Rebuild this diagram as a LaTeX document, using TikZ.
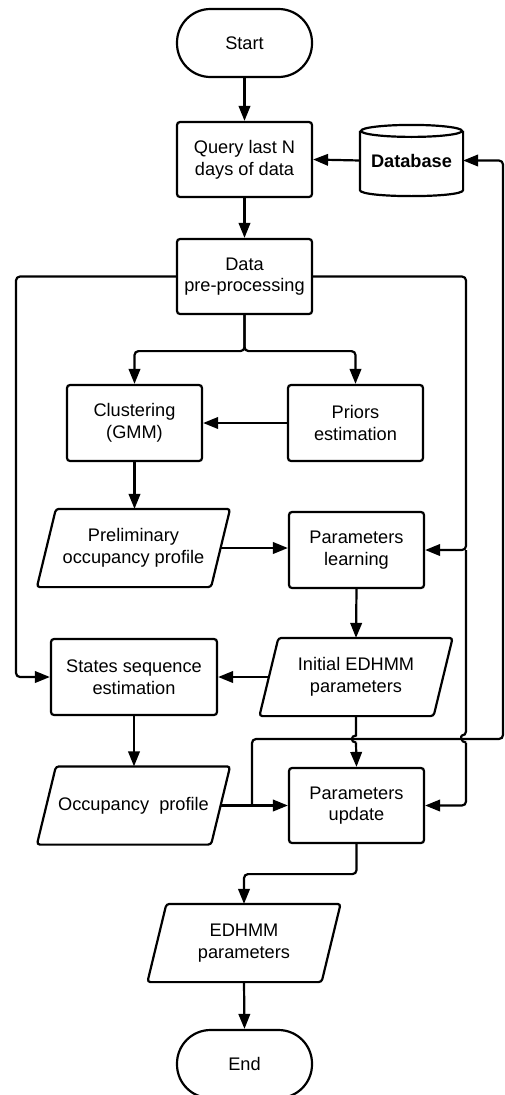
\documentclass[tikz,border=0pt]{standalone}
\usepackage{fontspec}
\setmainfont{Liberation Sans}
\usetikzlibrary{arrows.meta}
\begin{document}
\begin{tikzpicture}[x=1pt,y=-1pt,
  line width=2.2pt,
  every node/.style={font=\fontsize{18.2pt}{21.7pt}\selectfont, align=center, inner sep=0pt},
  proc/.style={draw, rectangle, rounded corners=3pt, minimum width=135pt, minimum height=76pt},
  term/.style={draw, rectangle, rounded corners=33.5pt, minimum width=135pt, minimum height=68pt},
  io/.style={rectangle, minimum width=172pt, minimum height=76pt},
  outline/.style={rounded corners=3pt},
  arr/.style={-{Triangle[length=15pt,width=11.5pt]}, rounded corners=4pt},
  wire/.style={rounded corners=4pt}
]
\useasboundingbox (0,0) rectangle (505,1095);

% nodes
\node[term] (start) at (244.5,43) {Start};
\node[proc, minimum height=75pt] (query) at (244.5,159.5) {Query last N\\days of data};
\node[rectangle, minimum width=101pt, minimum height=69pt, font=\fontsize{18.2pt}{21.7pt}\selectfont\bfseries] (db) at (411.5,160.5) {\raisebox{-3pt}{Database}};
\node[proc, minimum height=75pt] (pre) at (244.5,276.5) {Data\\pre-processing};
\node[proc] (clus) at (134.5,423) {Clustering\\(GMM)};
\node[proc] (priors) at (355.5,423) {Priors\\estimation};
\node[io] (prelim) at (133.5,548) {Preliminary\\occupancy profile};
\node[proc] (plearn) at (356.5,550) {Parameters\\learning};
\node[proc, minimum width=166pt] (states) at (134,677) {States sequence\\estimation};
\node[io] (initp) at (356,677) {Initial EDHMM\\parameters};
\node[io] (occ) at (133.5,805.5) {Occupancy~~profile};
\node[proc, minimum height=75pt] (pupd) at (356.5,805.5) {Parameters\\update};
\node[io] (edp) at (244,943) {EDHMM\\parameters};
\node[term] (end) at (244.5,1064) {End};

% parallelogram outlines
\foreach \n in {prelim,initp,occ,edp}
  \draw[outline] ([xshift=-9.5pt]\n.south west) -- ([xshift=9.5pt]\n.north west)
     -- ([xshift=9.5pt]\n.north east) -- ([xshift=-9.5pt]\n.south east) -- cycle;

% database cylinder
\draw ([yshift=-6pt]db.north) ellipse [x radius=50.5, y radius=6];
\draw ([yshift=-6pt]db.north west) -- ([yshift=6pt]db.south west)
   .. controls ([yshift=-2pt]db.south west) and ([yshift=-2pt]db.south east) .. ([yshift=6pt]db.south east)
   -- ([yshift=-6pt]db.north east);

% coordinates
\coordinate (L) at (16,277);
\coordinate (R) at (466,277);
\coordinate (J) at (252,805.5);
\coordinate (loopR) at (503,739);

% connectors
\draw[arr] (start) -- (query);
\draw[arr] (db.west) -- (query.east);
\draw[arr] (query) -- (pre);
\draw[arr] (pre.south) -- ++(0,36) -| (clus.north);
\draw[arr] (pre.south) -- ++(0,36) -| (priors.north);
\draw[arr] (priors.west) -- (clus.east);
\draw[arr] (clus.south) -- (clus.south |- prelim.north);
\draw[arr] (prelim.east) -- (plearn.west |- prelim.east);
\draw[arr] (pre.west) -- (L |- pre.west) |- (states.west);
\draw[arr] (pre.east) -- (R |- pre.east) |- (plearn.east);
\draw[wire] (R |- plearn.east) -- (466,735.5)
   .. controls (460.5,735.5) and (460.5,742.5) .. (466,742.5);
\draw[arr] (466,742.5) |- (pupd.east);
\draw[arr] (plearn.south) -- (initp.north);
\draw[arr] (initp.west) -- (states.east);
\draw[arr] (states.south) -- (states.south |- occ.north);
\draw[arr] (occ.east) -- (pupd.west |- occ.east);
\draw (initp.south) -- (356,735.5)
   .. controls (350.5,735.5) and (350.5,742.5) .. (356,742.5);
\draw[arr] (356,742.5) -- (pupd.north);
\draw[arr] (J) |- (loopR) |- (db.east);
\draw[arr] (pupd.south) -- ++(0,30) -| (edp.north);
\draw[arr] (edp.south) -- (end.north);
\end{tikzpicture}
\end{document}
